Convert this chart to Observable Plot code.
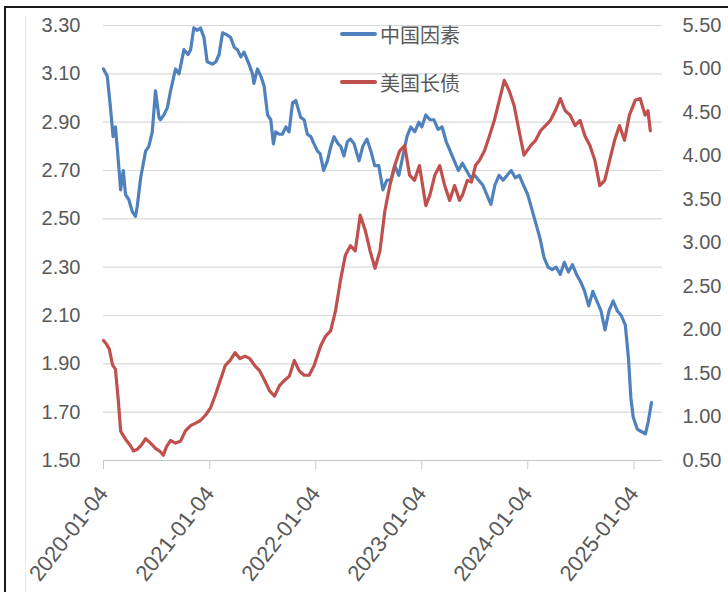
<!DOCTYPE html>
<html><head><meta charset="utf-8">
<script src="https://cdn.jsdelivr.net/npm/d3@7"></script>
<script src="https://cdn.jsdelivr.net/npm/@observablehq/plot@0.6"></script>
<style>
body{margin:0;background:#fff;}
#wrap{position:relative;width:728px;height:592px;overflow:hidden;background:#fff;}
#frame{position:absolute;left:4px;top:6px;width:760px;height:620px;border-left:2px solid #1a1a1a;border-top:2px solid #1a1a1a;box-sizing:border-box;}
#inner{position:absolute;left:25px;top:16px;width:1px;height:600px;background:#e8e8e8;}
#chart{position:absolute;left:0;top:0;}
#legend{position:absolute;left:340px;top:10px;font-family:'Noto Sans CJK SC',sans-serif;font-size:20px;color:#595959;}
.item{display:flex;align-items:center;height:48px;}
.sw{width:37px;height:4px;border-radius:2px;margin-right:3px;}
</style></head>
<body>
<div id="wrap">
  <div id="frame"></div>
  <div id="inner"></div>
  <div id="chart"></div>
  <div id="legend">
    <div class="item"><div class="sw" style="background:#4F81BD"></div><span id="l1"></span></div>
    <div class="item"><div class="sw" style="background:#C0504D"></div><span id="l2"></span></div>
  </div>
</div>
<script>
const seriesNames = ["中国因素", "美国长债"];
const leftTicks = [1.5, 1.7, 1.9, 2.1, 2.3, 2.5, 2.7, 2.9, 3.1, 3.3];
const rightTicks = [0.5, 1.0, 1.5, 2.0, 2.5, 3.0, 3.5, 4.0, 4.5, 5.0, 5.5];
const xTickLabels = ["2020-01-04", "2021-01-04", "2022-01-04", "2023-01-04", "2024-01-04", "2025-01-04"];
const xDomain = ["2020-01-04", "2025-04-12"];

const chinaDates = ["2020-01-04","2020-01-17","2020-01-28","2020-02-06","2020-02-14","2020-02-20","2020-03-03","2020-03-12","2020-03-20","2020-03-31","2020-04-12","2020-04-23","2020-04-29","2020-05-11","2020-05-28","2020-06-08","2020-06-20","2020-07-01","2020-07-13","2020-07-18","2020-07-30","2020-08-11","2020-08-22","2020-09-08","2020-09-20","2020-10-07","2020-10-21","2020-10-30","2020-11-10","2020-11-22","2020-12-03","2020-12-15","2020-12-26","2021-01-13","2021-01-25","2021-02-05","2021-02-17","2021-03-06","2021-03-17","2021-03-29","2021-04-09","2021-04-21","2021-05-02","2021-05-19","2021-05-31","2021-06-05","2021-06-17","2021-06-29","2021-07-10","2021-07-22","2021-08-02","2021-08-11","2021-08-19","2021-08-31","2021-09-11","2021-09-23","2021-10-04","2021-10-16","2021-10-27","2021-11-13","2021-11-25","2021-12-06","2021-12-18","2021-12-29","2022-01-10","2022-01-19","2022-01-31","2022-02-13","2022-02-25","2022-03-08","2022-03-22","2022-03-31","2022-04-11","2022-04-23","2022-05-04","2022-05-16","2022-06-02","2022-06-15","2022-06-29","2022-07-13","2022-07-26","2022-08-09","2022-08-23","2022-09-06","2022-09-20","2022-10-03","2022-10-17","2022-10-31","2022-11-14","2022-11-27","2022-12-11","2022-12-25","2023-01-04","2023-01-18","2023-02-01","2023-02-15","2023-03-01","2023-03-15","2023-03-29","2023-04-12","2023-04-26","2023-05-10","2023-05-24","2023-06-07","2023-06-21","2023-07-05","2023-07-19","2023-08-02","2023-08-16","2023-08-30","2023-09-13","2023-09-27","2023-10-11","2023-10-25","2023-11-08","2023-11-22","2023-12-06","2023-12-20","2024-01-04","2024-01-18","2024-02-01","2024-02-15","2024-02-29","2024-03-14","2024-03-28","2024-04-11","2024-04-25","2024-05-09","2024-05-23","2024-06-06","2024-06-20","2024-07-04","2024-07-18","2024-08-01","2024-08-15","2024-08-29","2024-09-12","2024-09-26","2024-10-10","2024-10-24","2024-11-07","2024-11-21","2024-12-05","2024-12-16","2024-12-24","2025-01-01","2025-01-15","2025-01-29","2025-02-12","2025-02-22","2025-03-05"];
const chinaValues = [3.12,3.09,2.96,2.84,2.88,2.80,2.62,2.70,2.60,2.58,2.53,2.51,2.55,2.67,2.78,2.80,2.86,3.03,2.92,2.91,2.93,2.96,3.03,3.12,3.10,3.20,3.18,3.20,3.29,3.28,3.29,3.25,3.15,3.14,3.15,3.18,3.27,3.26,3.25,3.21,3.20,3.17,3.19,3.14,3.10,3.06,3.12,3.09,3.05,2.93,2.91,2.81,2.86,2.85,2.85,2.88,2.86,2.98,2.99,2.92,2.91,2.85,2.84,2.81,2.78,2.77,2.70,2.74,2.80,2.84,2.81,2.80,2.76,2.82,2.83,2.81,2.74,2.80,2.83,2.78,2.72,2.72,2.62,2.66,2.66,2.72,2.68,2.76,2.84,2.88,2.86,2.90,2.88,2.93,2.91,2.91,2.87,2.88,2.82,2.78,2.74,2.70,2.73,2.70,2.67,2.68,2.66,2.64,2.60,2.56,2.64,2.68,2.66,2.68,2.70,2.67,2.68,2.64,2.60,2.54,2.48,2.42,2.34,2.30,2.29,2.30,2.27,2.32,2.28,2.31,2.27,2.24,2.20,2.14,2.20,2.16,2.12,2.04,2.12,2.16,2.12,2.10,2.06,1.92,1.76,1.68,1.63,1.62,1.61,1.66,1.74];

const usDates = ["2020-01-04","2020-01-14","2020-01-24","2020-02-04","2020-02-14","2020-02-24","2020-03-03","2020-03-13","2020-03-23","2020-04-06","2020-04-16","2020-04-30","2020-05-14","2020-05-28","2020-06-14","2020-07-01","2020-07-18","2020-07-28","2020-08-08","2020-08-22","2020-09-08","2020-09-25","2020-10-12","2020-10-30","2020-11-16","2020-12-03","2020-12-20","2021-01-06","2021-01-23","2021-02-09","2021-02-26","2021-03-15","2021-04-01","2021-04-18","2021-05-05","2021-05-22","2021-06-08","2021-06-25","2021-07-12","2021-07-29","2021-08-15","2021-09-01","2021-09-18","2021-10-05","2021-10-22","2021-11-08","2021-11-25","2021-12-12","2021-12-29","2022-01-21","2022-02-07","2022-02-24","2022-03-13","2022-03-30","2022-04-16","2022-05-03","2022-05-20","2022-06-06","2022-06-23","2022-07-10","2022-07-27","2022-08-13","2022-08-30","2022-09-16","2022-10-03","2022-10-20","2022-11-06","2022-11-23","2022-12-10","2022-12-27","2023-01-18","2023-02-01","2023-02-18","2023-03-07","2023-03-24","2023-04-10","2023-04-27","2023-05-14","2023-05-24","2023-06-10","2023-06-24","2023-07-08","2023-07-22","2023-08-08","2023-08-25","2023-09-11","2023-09-28","2023-10-15","2023-11-01","2023-11-18","2023-12-05","2023-12-22","2024-01-14","2024-01-31","2024-02-17","2024-03-05","2024-03-22","2024-04-08","2024-04-25","2024-05-12","2024-05-29","2024-06-15","2024-07-02","2024-07-19","2024-08-05","2024-08-22","2024-09-08","2024-09-25","2024-10-12","2024-10-29","2024-11-15","2024-12-02","2024-12-19","2025-01-08","2025-01-25","2025-02-11","2025-02-21","2025-03-01"];
const usValues = [1.88,1.84,1.78,1.60,1.55,1.19,0.84,0.78,0.73,0.67,0.61,0.63,0.68,0.75,0.70,0.64,0.60,0.56,0.66,0.73,0.70,0.72,0.84,0.90,0.93,0.96,1.02,1.10,1.25,1.42,1.59,1.65,1.74,1.67,1.70,1.67,1.59,1.53,1.42,1.30,1.24,1.36,1.42,1.47,1.65,1.53,1.48,1.48,1.59,1.82,1.93,1.99,2.22,2.57,2.86,2.97,2.91,3.32,3.15,2.91,2.71,2.91,3.37,3.66,3.89,4.06,4.12,3.78,3.72,3.89,3.43,3.55,3.78,3.89,3.66,3.49,3.66,3.49,3.55,3.72,3.70,3.89,3.95,4.06,4.23,4.41,4.64,4.87,4.75,4.58,4.29,4.01,4.12,4.18,4.29,4.35,4.41,4.52,4.66,4.52,4.47,4.35,4.41,4.23,4.12,3.95,3.66,3.72,3.95,4.18,4.35,4.18,4.47,4.64,4.66,4.47,4.52,4.29];

document.getElementById("l1").textContent = seriesNames[0];
document.getElementById("l2").textContent = seriesNames[1];

const lMin = leftTicks[0], lMax = leftTicks[leftTicks.length - 1];
const rMin = rightTicks[0], rMax = rightTicks[rightTicks.length - 1];
const toLeft = v => lMin + (v - rMin) * (lMax - lMin) / (rMax - rMin);
const fromLeft = v => rMin + (v - lMin) * (rMax - rMin) / (lMax - lMin);

const china = chinaDates.map((d, i) => ({date: new Date(d), v: chinaValues[i]}));
const us = usDates.map((d, i) => ({date: new Date(d), v: usValues[i]}));
const font = "'Liberation Sans', Arial, sans-serif";

const chart = Plot.plot({
  width: 728,
  height: 592,
  marginTop: 25,
  marginBottom: 132,
  marginLeft: 103,
  marginRight: 66,
  style: {fontSize: "20px", fontFamily: font, background: "transparent", overflow: "visible"},
  x: {type: "utc", domain: xDomain.map(d => new Date(d)), label: null},
  y: {domain: [lMin, lMax], label: null},
  marks: [
    Plot.ruleY(leftTicks.slice(1), {stroke: "#d9d9d9", strokeWidth: 1.2}),
    Plot.ruleY([lMin], {stroke: "#c8c8c8", strokeWidth: 1.2}),
    Plot.axisY({anchor: "left", label: null, ticks: leftTicks, tickFormat: d3.format(".2f"), tickSize: 0, tickPadding: 23, fill: "#595959", fontSize: 20}),
    Plot.axisY({anchor: "right", label: null, ticks: rightTicks.map(toLeft), tickFormat: d => fromLeft(d).toFixed(2), tickSize: 0, tickPadding: 20, fill: "#595959", fontSize: 20}),
    Plot.axisX({label: null, ticks: xTickLabels.map(d => new Date(d)), tickFormat: d3.utcFormat("%Y-%m-%d"), tickSize: 9, tickPadding: 20, tickRotate: -52, stroke: "#c8c8c8", fill: "#595959", fontSize: 22}),
    Plot.line(china, {x: "date", y: "v", stroke: "#4F81BD", strokeWidth: 3.2, strokeLinejoin: "round"}),
    Plot.line(us, {x: "date", y: d => toLeft(d.v), stroke: "#C0504D", strokeWidth: 3.2, strokeLinejoin: "round"})
  ]
});
document.getElementById("chart").appendChild(chart);
</script>
</body></html>
